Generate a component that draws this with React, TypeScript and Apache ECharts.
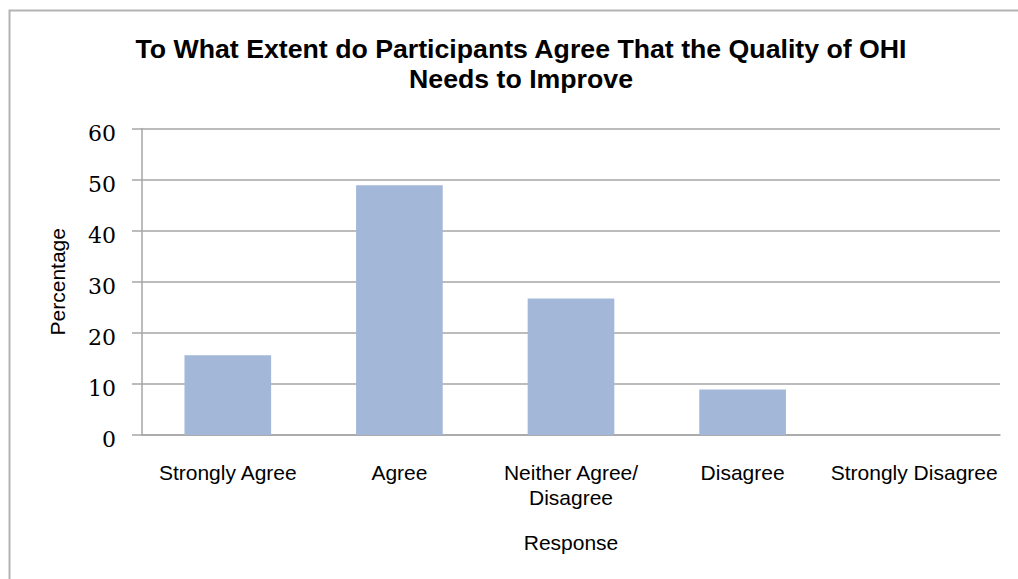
import React, { useEffect, useRef } from "react";
import * as echarts from "echarts";

// Survey responses (% of participants)
const categories = [
  "Strongly Agree",
  "Agree",
  "Neither Agree/\nDisagree",
  "Disagree",
  "Strongly Disagree",
];
const percentages = [15.6, 48.9, 26.7, 8.9, 0];
const yTicks = { min: 0, max: 60, interval: 10 };

const titleLines = [
  "To What Extent do Participants Agree That the Quality of OHI",
  "Needs to Improve",
];

const SANS = "Arial, 'Liberation Sans', sans-serif";
const SERIF = "'DejaVu Serif', 'Liberation Serif', serif";
const GRID_GRAY = "#a6a6a6";

export default function App() {
  const ref = useRef<HTMLDivElement>(null);

  useEffect(() => {
    if (!ref.current) return;
    const chart = echarts.init(ref.current, undefined, { renderer: "svg" });
    chart.setOption({
      animation: false,
      backgroundColor: "#ffffff",
      title: {
        text: titleLines.join("\n"),
        left: 516,
        top: 29,
        textAlign: "center",
        textStyle: {
          fontFamily: SANS,
          fontSize: 26.7,
          fontWeight: "bold",
          color: "#000000",
          lineHeight: 30,
          align: "center",
        },
      },
      graphic: [
        {
          type: "rect",
          shape: { x: 9.5, y: 10.5, width: 1040, height: 620 },
          style: { fill: "none", stroke: "#b3b3b3", lineWidth: 2 },
          silent: true,
        },
      ],
      grid: { left: 142, right: 18, top: 128.5, bottom: 144 },
      xAxis: {
        type: "category",
        data: categories,
        name: "Response",
        nameLocation: "middle",
        nameGap: 97,
        nameTextStyle: { fontFamily: SANS, fontSize: 21, color: "#000000" },
        axisLine: { show: true, lineStyle: { color: GRID_GRAY, width: 1.5 } },
        axisTick: { show: false },
        axisLabel: {
          fontFamily: SANS,
          fontSize: 21,
          color: "#000000",
          margin: 25,
          lineHeight: 25,
          interval: 0,
        },
      },
      yAxis: {
        type: "value",
        min: yTicks.min,
        max: yTicks.max,
        interval: yTicks.interval,
        name: "Percentage",
        nameLocation: "middle",
        nameGap: 74,
        nameRotate: 90,
        nameTextStyle: { fontFamily: SANS, fontSize: 21, color: "#000000" },
        axisLine: { show: true, lineStyle: { color: GRID_GRAY, width: 1.5 } },
        axisTick: {
          show: true,
          length: 10,
          lineStyle: { color: GRID_GRAY, width: 1.5 },
        },
        axisLabel: {
          margin: 26,
          formatter: "{v|{value}}",
          rich: {
            v: {
              fontFamily: SERIF,
              fontSize: 22,
              color: "#000000",
              padding: [9, 0, 0, 0],
            },
          },
        },
        splitLine: { show: true, lineStyle: { color: GRID_GRAY, width: 1.5 } },
      },
      series: [
        {
          type: "bar",
          data: percentages,
          barWidth: "50.5%",
          itemStyle: { color: "#a3b7d9" },
        },
      ],
    });
    return () => chart.dispose();
  }, []);

  return (
    <div
      ref={ref}
      style={{ position: "fixed", left: 0, top: 0, width: 1018, height: 579 }}
    />
  );
}
